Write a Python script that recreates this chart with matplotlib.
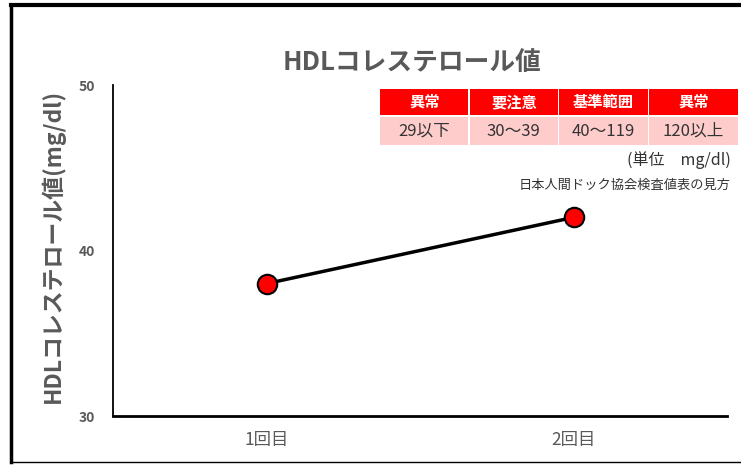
import matplotlib
matplotlib.use("Agg")
import matplotlib.pyplot as plt
from matplotlib.patches import Rectangle
from matplotlib.lines import Line2D

plt.rcParams['font.family'] = ['Noto Sans CJK JP', 'DejaVu Sans']

categories = ['1回目', '2回目']
hdl_values = [38, 42]
y_ticks = [30, 40, 50]

table_header = ['異常', '要注意', '基準範囲', '異常']
table_ranges = ['29以下', '30～39', '40～119', '120以上']
unit_note = '(単位　mg/dl)'
source_note = '日本人間ドック協会検査値表の見方'

W, H = 741, 465
fig = plt.figure(figsize=(W / 100, H / 100), dpi=100)
ax = fig.add_axes([113 / W, 1 - 416 / H, (727 - 113) / W, (416 - 85) / H])

x = list(range(len(categories)))
ax.plot(x, hdl_values, color='black', lw=2.5, marker='o', markersize=14,
        markerfacecolor='#FF0000', markeredgecolor='black', markeredgewidth=1.5, zorder=3)

ax.set_xlim(-0.5, len(categories) - 0.5)
ax.set_ylim(30, 50)
ax.set_yticks(y_ticks)
ax.set_xticks(x)
ax.set_xticklabels(categories, fontsize=12.5, color='#595959')
for lab in ax.get_yticklabels():
    lab.set_fontweight('bold')
ax.tick_params(axis='y', length=0, labelsize=10, labelcolor='#595959', pad=13)
ax.tick_params(axis='x', length=0, pad=11)
ax.spines['top'].set_visible(False)
ax.spines['right'].set_visible(False)
ax.spines['left'].set_linewidth(1.3)
ax.spines['bottom'].set_linewidth(2)

ax.set_ylabel('HDLコレステロール値(mg/dl)', fontsize=16.5, fontweight='bold',
              color='#595959')
ax.yaxis.set_label_coords(-0.078, 0.515)
fig.text(412 / W, 1 - 63 / H, 'HDLコレステロール値', ha='center', va='center',
         fontsize=18.5, fontweight='bold', color='#595959')

# reference table
col_edges = [380, 470, 559, 649, 739]
for i, (hd, rg) in enumerate(zip(table_header, table_ranges)):
    x0, x1 = col_edges[i], col_edges[i + 1] - 1.5
    fig.add_artist(Rectangle((x0 / W, 1 - 115 / H), (x1 - x0) / W, 26 / H,
                             transform=fig.transFigure, facecolor='#FF0000', edgecolor='none'))
    fig.add_artist(Rectangle((x0 / W, 1 - 145 / H), (x1 - x0) / W, 28 / H,
                             transform=fig.transFigure, facecolor='#FFCCCC', edgecolor='none'))
    cx = (x0 + x1) / 2 / W
    fig.text(cx, 1 - 102 / H, hd, ha='center', va='center', fontsize=11,
             fontweight='bold', color='white')
    fig.text(cx, 1 - 131 / H, rg, ha='center', va='center', fontsize=12, color='#333333')

fig.text(731 / W, 1 - 160 / H, unit_note, ha='right', va='center', fontsize=11.5, color='#333333')
fig.text(731 / W, 1 - 185 / H, source_note, ha='right', va='center', fontsize=9.5, color='#333333')

# outer frame
fig.add_artist(Line2D([11 / W, 1.0], [1 - 5 / H, 1 - 5 / H], transform=fig.transFigure,
                      color='black', lw=3))
fig.add_artist(Line2D([11 / W, 11 / W], [1 - 5 / H, 1 - 462 / H], transform=fig.transFigure,
                      color='black', lw=2.5))
fig.add_artist(Line2D([11 / W, 1.0], [1 - 462 / H, 1 - 462 / H], transform=fig.transFigure,
                      color='black', lw=1))

fig.savefig('out.png', dpi=100)
